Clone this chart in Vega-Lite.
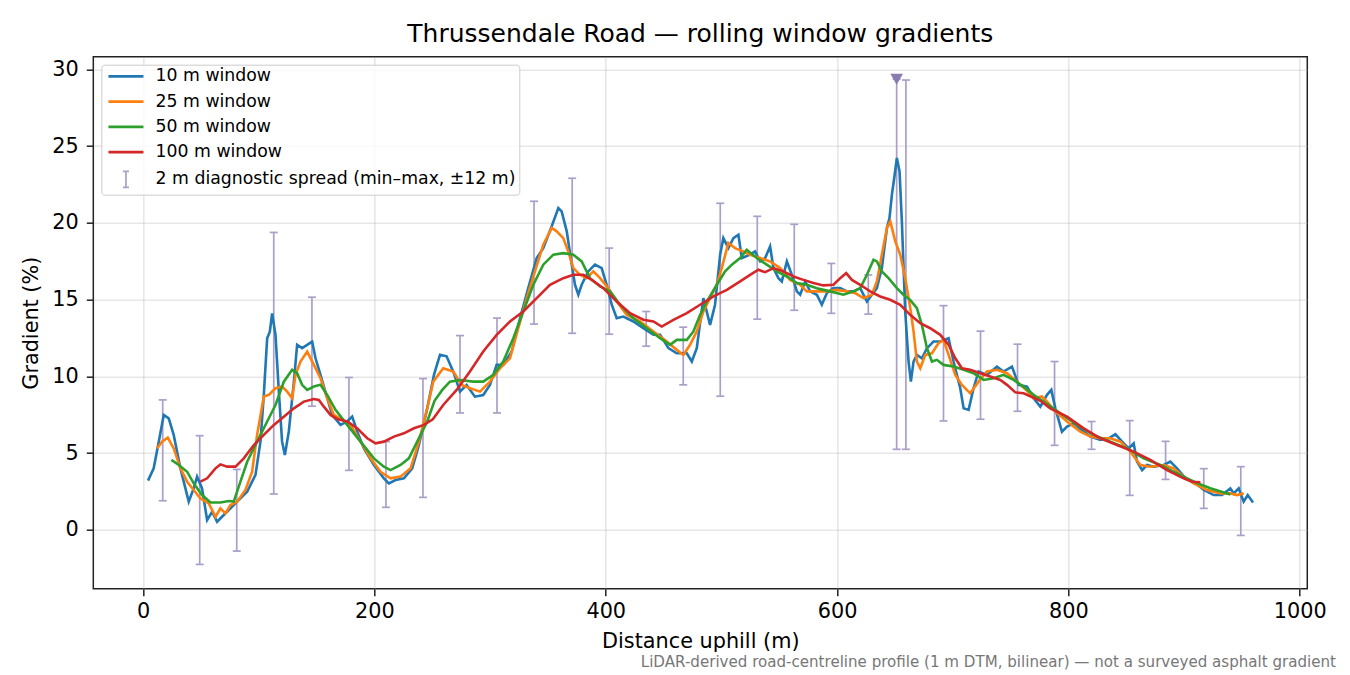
{
  "$schema": "https://vega.github.io/schema/vega-lite/v6.json",
  "description": "Rolling window gradients along Thrussendale Road, with 2 m diagnostic spread bars.",
  "background": "white",
  "padding": {"left": 19.3, "top": 20.7, "right": 5, "bottom": 5},
  "datasets": {
    "lines": [
      {"s": "10 m window", "d": 4.3, "g": 3.2}, {"s": "10 m window", "d": 9.2, "g": 4.0}, {"s": "10 m window", "d": 13.6, "g": 5.74}, {"s": "10 m window", "d": 17.9, "g": 7.48}, {"s": "10 m window", "d": 22.2, "g": 7.26}, {"s": "10 m window", "d": 26.5, "g": 6.18}, {"s": "10 m window", "d": 32.3, "g": 4.0}, {"s": "10 m window", "d": 39.5, "g": 1.83}, {"s": "10 m window", "d": 43.8, "g": 2.7}, {"s": "10 m window", "d": 46.7, "g": 3.46}, {"s": "10 m window", "d": 51, "g": 2.7}, {"s": "10 m window", "d": 55.4, "g": 0.63}, {"s": "10 m window", "d": 59.7, "g": 1.17}, {"s": "10 m window", "d": 64, "g": 0.52}, {"s": "10 m window", "d": 69.8, "g": 0.96}, {"s": "10 m window", "d": 75.6, "g": 1.39}, {"s": "10 m window", "d": 81.3, "g": 1.83}, {"s": "10 m window", "d": 90, "g": 2.48}, {"s": "10 m window", "d": 97.2, "g": 3.57}, {"s": "10 m window", "d": 101.5, "g": 5.74}, {"s": "10 m window", "d": 104.4, "g": 8.79}, {"s": "10 m window", "d": 107.3, "g": 12.48}, {"s": "10 m window", "d": 109.6, "g": 12.9}, {"s": "10 m window", "d": 111.6, "g": 14.1}, {"s": "10 m window", "d": 114.5, "g": 12.7}, {"s": "10 m window", "d": 117.4, "g": 9.0}, {"s": "10 m window", "d": 120.2, "g": 5.74}, {"s": "10 m window", "d": 122.6, "g": 4.87}, {"s": "10 m window", "d": 126, "g": 6.39}, {"s": "10 m window", "d": 130.4, "g": 9.65}, {"s": "10 m window", "d": 133.2, "g": 12.05}, {"s": "10 m window", "d": 137.5, "g": 11.83}, {"s": "10 m window", "d": 141.9, "g": 12.05}, {"s": "10 m window", "d": 146.2, "g": 12.26}, {"s": "10 m window", "d": 149.1, "g": 11.17}, {"s": "10 m window", "d": 153.4, "g": 10.09}, {"s": "10 m window", "d": 159.2, "g": 8.57}, {"s": "10 m window", "d": 163.5, "g": 7.48}, {"s": "10 m window", "d": 170.7, "g": 6.83}, {"s": "10 m window", "d": 176.5, "g": 7.05}, {"s": "10 m window", "d": 180.8, "g": 7.37}, {"s": "10 m window", "d": 185.2, "g": 6.39}, {"s": "10 m window", "d": 190.9, "g": 5.3}, {"s": "10 m window", "d": 199.6, "g": 4.22}, {"s": "10 m window", "d": 208.2, "g": 3.35}, {"s": "10 m window", "d": 212.5, "g": 3.02}, {"s": "10 m window", "d": 218.3, "g": 3.24}, {"s": "10 m window", "d": 225.5, "g": 3.35}, {"s": "10 m window", "d": 232.7, "g": 4.0}, {"s": "10 m window", "d": 238.5, "g": 5.52}, {"s": "10 m window", "d": 245.7, "g": 7.91}, {"s": "10 m window", "d": 251.5, "g": 10.09}, {"s": "10 m window", "d": 256.7, "g": 11.4}, {"s": "10 m window", "d": 262.4, "g": 11.3}, {"s": "10 m window", "d": 268.2, "g": 10.3}, {"s": "10 m window", "d": 274, "g": 9.0}, {"s": "10 m window", "d": 279.7, "g": 9.43}, {"s": "10 m window", "d": 286.9, "g": 8.67}, {"s": "10 m window", "d": 294.1, "g": 8.78}, {"s": "10 m window", "d": 299.9, "g": 9.43}, {"s": "10 m window", "d": 305.7, "g": 10.74}, {"s": "10 m window", "d": 311.4, "g": 10.74}, {"s": "10 m window", "d": 318.7, "g": 11.61}, {"s": "10 m window", "d": 325.9, "g": 13.78}, {"s": "10 m window", "d": 333, "g": 15.74}, {"s": "10 m window", "d": 340.3, "g": 17.7}, {"s": "10 m window", "d": 346, "g": 18.35}, {"s": "10 m window", "d": 353.3, "g": 19.77}, {"s": "10 m window", "d": 359, "g": 20.96}, {"s": "10 m window", "d": 361.9, "g": 20.74}, {"s": "10 m window", "d": 366.3, "g": 19.44}, {"s": "10 m window", "d": 370.6, "g": 17.27}, {"s": "10 m window", "d": 373.4, "g": 15.96}, {"s": "10 m window", "d": 376.3, "g": 15.31}, {"s": "10 m window", "d": 379.2, "g": 15.96}, {"s": "10 m window", "d": 384.9, "g": 16.83}, {"s": "10 m window", "d": 390.7, "g": 17.27}, {"s": "10 m window", "d": 396.5, "g": 17.05}, {"s": "10 m window", "d": 400.8, "g": 15.96}, {"s": "10 m window", "d": 405.2, "g": 14.66}, {"s": "10 m window", "d": 409.5, "g": 13.78}, {"s": "10 m window", "d": 415.2, "g": 13.89}, {"s": "10 m window", "d": 423.9, "g": 13.57}, {"s": "10 m window", "d": 432.5, "g": 13.13}, {"s": "10 m window", "d": 441.2, "g": 12.7}, {"s": "10 m window", "d": 447, "g": 12.7}, {"s": "10 m window", "d": 454.2, "g": 11.83}, {"s": "10 m window", "d": 461.4, "g": 11.5}, {"s": "10 m window", "d": 470.1, "g": 11.5}, {"s": "10 m window", "d": 474.4, "g": 10.96}, {"s": "10 m window", "d": 478.7, "g": 11.83}, {"s": "10 m window", "d": 484.4, "g": 15.09}, {"s": "10 m window", "d": 490.2, "g": 13.35}, {"s": "10 m window", "d": 494.5, "g": 14.66}, {"s": "10 m window", "d": 498.9, "g": 17.92}, {"s": "10 m window", "d": 501.7, "g": 19.0}, {"s": "10 m window", "d": 506, "g": 18.35}, {"s": "10 m window", "d": 510.4, "g": 19.0}, {"s": "10 m window", "d": 514.7, "g": 19.22}, {"s": "10 m window", "d": 517.6, "g": 17.7}, {"s": "10 m window", "d": 524.8, "g": 17.92}, {"s": "10 m window", "d": 529.1, "g": 18.13}, {"s": "10 m window", "d": 533.5, "g": 17.48}, {"s": "10 m window", "d": 537.8, "g": 17.7}, {"s": "10 m window", "d": 542.1, "g": 18.46}, {"s": "10 m window", "d": 545, "g": 17.05}, {"s": "10 m window", "d": 549.3, "g": 16.39}, {"s": "10 m window", "d": 552.2, "g": 16.18}, {"s": "10 m window", "d": 556.6, "g": 17.48}, {"s": "10 m window", "d": 560.9, "g": 16.61}, {"s": "10 m window", "d": 565.2, "g": 15.53}, {"s": "10 m window", "d": 568.1, "g": 15.31}, {"s": "10 m window", "d": 572.4, "g": 16.18}, {"s": "10 m window", "d": 576.7, "g": 15.53}, {"s": "10 m window", "d": 582.5, "g": 15.31}, {"s": "10 m window", "d": 586.8, "g": 14.66}, {"s": "10 m window", "d": 591.2, "g": 15.42}, {"s": "10 m window", "d": 596.9, "g": 15.74}, {"s": "10 m window", "d": 602.7, "g": 15.74}, {"s": "10 m window", "d": 608.5, "g": 15.53}, {"s": "10 m window", "d": 614.2, "g": 15.53}, {"s": "10 m window", "d": 620, "g": 15.74}, {"s": "10 m window", "d": 625.8, "g": 14.87}, {"s": "10 m window", "d": 630.1, "g": 15.31}, {"s": "10 m window", "d": 634.4, "g": 15.74}, {"s": "10 m window", "d": 638.7, "g": 17.05}, {"s": "10 m window", "d": 643.1, "g": 19.66}, {"s": "10 m window", "d": 645.3, "g": 20.31}, {"s": "10 m window", "d": 647.4, "g": 21.83}, {"s": "10 m window", "d": 649.4, "g": 22.92}, {"s": "10 m window", "d": 651.7, "g": 24.22}, {"s": "10 m window", "d": 654, "g": 23.35}, {"s": "10 m window", "d": 656, "g": 20.09}, {"s": "10 m window", "d": 658.9, "g": 14.22}, {"s": "10 m window", "d": 661.8, "g": 10.96}, {"s": "10 m window", "d": 663.8, "g": 9.65}, {"s": "10 m window", "d": 666.1, "g": 10.96}, {"s": "10 m window", "d": 669, "g": 11.39}, {"s": "10 m window", "d": 673.3, "g": 11.17}, {"s": "10 m window", "d": 677.7, "g": 11.83}, {"s": "10 m window", "d": 683.4, "g": 12.26}, {"s": "10 m window", "d": 689.2, "g": 12.26}, {"s": "10 m window", "d": 696.4, "g": 12.48}, {"s": "10 m window", "d": 700.7, "g": 10.96}, {"s": "10 m window", "d": 706.5, "g": 9.22}, {"s": "10 m window", "d": 709.4, "g": 7.91}, {"s": "10 m window", "d": 713.7, "g": 7.81}, {"s": "10 m window", "d": 718, "g": 9.22}, {"s": "10 m window", "d": 722.3, "g": 10.31}, {"s": "10 m window", "d": 729.5, "g": 10.09}, {"s": "10 m window", "d": 738.2, "g": 10.63}, {"s": "10 m window", "d": 743.9, "g": 10.31}, {"s": "10 m window", "d": 751.2, "g": 10.63}, {"s": "10 m window", "d": 756.9, "g": 9.44}, {"s": "10 m window", "d": 764.2, "g": 9.33}, {"s": "10 m window", "d": 769.9, "g": 8.57}, {"s": "10 m window", "d": 775.7, "g": 8.02}, {"s": "10 m window", "d": 781.5, "g": 8.79}, {"s": "10 m window", "d": 785.2, "g": 9.11}, {"s": "10 m window", "d": 788.7, "g": 7.91}, {"s": "10 m window", "d": 794.4, "g": 6.39}, {"s": "10 m window", "d": 798.8, "g": 6.72}, {"s": "10 m window", "d": 804.5, "g": 6.94}, {"s": "10 m window", "d": 813.2, "g": 6.39}, {"s": "10 m window", "d": 819, "g": 6.07}, {"s": "10 m window", "d": 827.6, "g": 5.85}, {"s": "10 m window", "d": 834.8, "g": 5.96}, {"s": "10 m window", "d": 840.6, "g": 6.22}, {"s": "10 m window", "d": 846.4, "g": 5.74}, {"s": "10 m window", "d": 852.1, "g": 5.3}, {"s": "10 m window", "d": 856.4, "g": 5.63}, {"s": "10 m window", "d": 859.3, "g": 4.44}, {"s": "10 m window", "d": 863.7, "g": 3.89}, {"s": "10 m window", "d": 868, "g": 4.22}, {"s": "10 m window", "d": 873.8, "g": 4.11}, {"s": "10 m window", "d": 882.4, "g": 4.22}, {"s": "10 m window", "d": 888.1, "g": 4.44}, {"s": "10 m window", "d": 893.9, "g": 4.0}, {"s": "10 m window", "d": 901.1, "g": 3.35}, {"s": "10 m window", "d": 908.3, "g": 3.13}, {"s": "10 m window", "d": 917, "g": 2.59}, {"s": "10 m window", "d": 925.6, "g": 2.26}, {"s": "10 m window", "d": 932.8, "g": 2.26}, {"s": "10 m window", "d": 940, "g": 2.7}, {"s": "10 m window", "d": 942.9, "g": 2.37}, {"s": "10 m window", "d": 947.2, "g": 2.7}, {"s": "10 m window", "d": 951.5, "g": 1.83}, {"s": "10 m window", "d": 955, "g": 2.26}, {"s": "10 m window", "d": 959.6, "g": 1.78},

      {"s": "25 m window", "d": 12.1, "g": 5.3}, {"s": "25 m window", "d": 16.4, "g": 5.74}, {"s": "25 m window", "d": 21.4, "g": 6.0}, {"s": "25 m window", "d": 26.5, "g": 5.3}, {"s": "25 m window", "d": 32.3, "g": 4.0}, {"s": "25 m window", "d": 38.1, "g": 3.13}, {"s": "25 m window", "d": 43.8, "g": 2.59}, {"s": "25 m window", "d": 49.6, "g": 2.04}, {"s": "25 m window", "d": 56.8, "g": 1.72}, {"s": "25 m window", "d": 62.6, "g": 0.85}, {"s": "25 m window", "d": 66.9, "g": 1.39}, {"s": "25 m window", "d": 71.2, "g": 1.06}, {"s": "25 m window", "d": 75.6, "g": 1.61}, {"s": "25 m window", "d": 81.3, "g": 1.83}, {"s": "25 m window", "d": 88.5, "g": 2.59}, {"s": "25 m window", "d": 94.3, "g": 3.78}, {"s": "25 m window", "d": 98.6, "g": 6.18}, {"s": "25 m window", "d": 104.4, "g": 8.68}, {"s": "25 m window", "d": 108.7, "g": 8.79}, {"s": "25 m window", "d": 114.5, "g": 9.22}, {"s": "25 m window", "d": 120.2, "g": 9.33}, {"s": "25 m window", "d": 124.6, "g": 9.0}, {"s": "25 m window", "d": 128.9, "g": 8.57}, {"s": "25 m window", "d": 131.8, "g": 10.09}, {"s": "25 m window", "d": 136.1, "g": 10.96}, {"s": "25 m window", "d": 141.9, "g": 11.61}, {"s": "25 m window", "d": 147.7, "g": 10.74}, {"s": "25 m window", "d": 153.4, "g": 9.87}, {"s": "25 m window", "d": 159.2, "g": 8.57}, {"s": "25 m window", "d": 165, "g": 7.48}, {"s": "25 m window", "d": 172.1, "g": 7.16}, {"s": "25 m window", "d": 179.4, "g": 6.83}, {"s": "25 m window", "d": 188, "g": 5.74}, {"s": "25 m window", "d": 196.7, "g": 4.65}, {"s": "25 m window", "d": 205.3, "g": 3.78}, {"s": "25 m window", "d": 214, "g": 3.35}, {"s": "25 m window", "d": 222.6, "g": 3.46}, {"s": "25 m window", "d": 231.3, "g": 4.0}, {"s": "25 m window", "d": 238.5, "g": 5.74}, {"s": "25 m window", "d": 245.7, "g": 7.91}, {"s": "25 m window", "d": 250.9, "g": 9.65}, {"s": "25 m window", "d": 259.5, "g": 10.52}, {"s": "25 m window", "d": 268.2, "g": 10.31}, {"s": "25 m window", "d": 275.4, "g": 9.43}, {"s": "25 m window", "d": 282.6, "g": 9.22}, {"s": "25 m window", "d": 291.3, "g": 9.0}, {"s": "25 m window", "d": 299.9, "g": 9.65}, {"s": "25 m window", "d": 308.6, "g": 10.52}, {"s": "25 m window", "d": 317.2, "g": 11.17}, {"s": "25 m window", "d": 324.4, "g": 13.13}, {"s": "25 m window", "d": 331.7, "g": 15.09}, {"s": "25 m window", "d": 338.8, "g": 16.83}, {"s": "25 m window", "d": 346, "g": 18.57}, {"s": "25 m window", "d": 353.3, "g": 19.66}, {"s": "25 m window", "d": 357.6, "g": 19.44}, {"s": "25 m window", "d": 363.3, "g": 19.0}, {"s": "25 m window", "d": 367.6, "g": 18.13}, {"s": "25 m window", "d": 372, "g": 17.05}, {"s": "25 m window", "d": 377.8, "g": 16.61}, {"s": "25 m window", "d": 383.5, "g": 16.39}, {"s": "25 m window", "d": 389.3, "g": 16.83}, {"s": "25 m window", "d": 395.1, "g": 16.39}, {"s": "25 m window", "d": 402.2, "g": 15.74}, {"s": "25 m window", "d": 409.5, "g": 14.87}, {"s": "25 m window", "d": 418.2, "g": 14.0}, {"s": "25 m window", "d": 429.7, "g": 13.57}, {"s": "25 m window", "d": 441.2, "g": 12.92}, {"s": "25 m window", "d": 452.8, "g": 12.26}, {"s": "25 m window", "d": 461.4, "g": 11.72}, {"s": "25 m window", "d": 467.1, "g": 11.39}, {"s": "25 m window", "d": 472.9, "g": 12.05}, {"s": "25 m window", "d": 478.7, "g": 12.92}, {"s": "25 m window", "d": 484.4, "g": 14.22}, {"s": "25 m window", "d": 490.2, "g": 15.09}, {"s": "25 m window", "d": 496, "g": 15.96}, {"s": "25 m window", "d": 500.3, "g": 17.05}, {"s": "25 m window", "d": 506, "g": 18.68}, {"s": "25 m window", "d": 511.8, "g": 18.35}, {"s": "25 m window", "d": 519, "g": 18.13}, {"s": "25 m window", "d": 524.8, "g": 17.92}, {"s": "25 m window", "d": 533.5, "g": 17.7}, {"s": "25 m window", "d": 542.1, "g": 17.48}, {"s": "25 m window", "d": 550.8, "g": 17.05}, {"s": "25 m window", "d": 559.4, "g": 16.28}, {"s": "25 m window", "d": 568.1, "g": 15.96}, {"s": "25 m window", "d": 573.8, "g": 15.53}, {"s": "25 m window", "d": 582.5, "g": 15.53}, {"s": "25 m window", "d": 591.2, "g": 15.53}, {"s": "25 m window", "d": 599.8, "g": 15.63}, {"s": "25 m window", "d": 608.5, "g": 15.53}, {"s": "25 m window", "d": 615.6, "g": 15.42}, {"s": "25 m window", "d": 622.8, "g": 15.09}, {"s": "25 m window", "d": 630.1, "g": 15.31}, {"s": "25 m window", "d": 634.4, "g": 16.18}, {"s": "25 m window", "d": 638.7, "g": 17.92}, {"s": "25 m window", "d": 643.1, "g": 19.66}, {"s": "25 m window", "d": 646, "g": 20.09}, {"s": "25 m window", "d": 650.3, "g": 18.79}, {"s": "25 m window", "d": 654.6, "g": 17.92}, {"s": "25 m window", "d": 658.9, "g": 16.39}, {"s": "25 m window", "d": 663.3, "g": 14.44}, {"s": "25 m window", "d": 666.1, "g": 12.92}, {"s": "25 m window", "d": 669, "g": 10.96}, {"s": "25 m window", "d": 671.9, "g": 10.52}, {"s": "25 m window", "d": 676.2, "g": 11.39}, {"s": "25 m window", "d": 682, "g": 11.5}, {"s": "25 m window", "d": 687.7, "g": 12.15}, {"s": "25 m window", "d": 692, "g": 12.37}, {"s": "25 m window", "d": 696.4, "g": 11.39}, {"s": "25 m window", "d": 702.2, "g": 10.09}, {"s": "25 m window", "d": 707.9, "g": 9.43}, {"s": "25 m window", "d": 715.1, "g": 8.89}, {"s": "25 m window", "d": 722.3, "g": 9.65}, {"s": "25 m window", "d": 729.5, "g": 10.31}, {"s": "25 m window", "d": 738.2, "g": 10.42}, {"s": "25 m window", "d": 746.9, "g": 10.2}, {"s": "25 m window", "d": 755.5, "g": 9.65}, {"s": "25 m window", "d": 764.2, "g": 9.05}, {"s": "25 m window", "d": 769.9, "g": 8.57}, {"s": "25 m window", "d": 777.1, "g": 8.68}, {"s": "25 m window", "d": 782.9, "g": 8.24}, {"s": "25 m window", "d": 788.7, "g": 7.7}, {"s": "25 m window", "d": 798.8, "g": 7.05}, {"s": "25 m window", "d": 810.3, "g": 6.39}, {"s": "25 m window", "d": 819, "g": 6.07}, {"s": "25 m window", "d": 827.6, "g": 5.96}, {"s": "25 m window", "d": 836.2, "g": 5.96}, {"s": "25 m window", "d": 844.9, "g": 5.74}, {"s": "25 m window", "d": 853.5, "g": 5.09}, {"s": "25 m window", "d": 862.2, "g": 4.22}, {"s": "25 m window", "d": 870.8, "g": 4.11}, {"s": "25 m window", "d": 882.4, "g": 4.22}, {"s": "25 m window", "d": 891, "g": 4.0}, {"s": "25 m window", "d": 899.6, "g": 3.46}, {"s": "25 m window", "d": 908.3, "g": 3.02}, {"s": "25 m window", "d": 919.8, "g": 2.59}, {"s": "25 m window", "d": 931.4, "g": 2.37}, {"s": "25 m window", "d": 940, "g": 2.37}, {"s": "25 m window", "d": 945.8, "g": 2.26}, {"s": "25 m window", "d": 951.5, "g": 2.37},

      {"s": "50 m window", "d": 24.5, "g": 4.55}, {"s": "50 m window", "d": 30.9, "g": 4.22}, {"s": "50 m window", "d": 38.1, "g": 3.78}, {"s": "50 m window", "d": 43.8, "g": 3.02}, {"s": "50 m window", "d": 51, "g": 2.26}, {"s": "50 m window", "d": 58.3, "g": 1.78}, {"s": "50 m window", "d": 66.9, "g": 1.78}, {"s": "50 m window", "d": 74.1, "g": 1.87}, {"s": "50 m window", "d": 78.4, "g": 1.83}, {"s": "50 m window", "d": 84.2, "g": 3.13}, {"s": "50 m window", "d": 90, "g": 4.43}, {"s": "50 m window", "d": 98.6, "g": 5.74}, {"s": "50 m window", "d": 107.3, "g": 7.05}, {"s": "50 m window", "d": 114.5, "g": 8.13}, {"s": "50 m window", "d": 121.7, "g": 9.65}, {"s": "50 m window", "d": 128.9, "g": 10.42}, {"s": "50 m window", "d": 133.2, "g": 10.2}, {"s": "50 m window", "d": 137.5, "g": 9.44}, {"s": "50 m window", "d": 141.9, "g": 9.11}, {"s": "50 m window", "d": 147.7, "g": 9.33}, {"s": "50 m window", "d": 153.4, "g": 9.44}, {"s": "50 m window", "d": 159.2, "g": 8.79}, {"s": "50 m window", "d": 166.4, "g": 7.81}, {"s": "50 m window", "d": 176.5, "g": 6.83}, {"s": "50 m window", "d": 188, "g": 5.74}, {"s": "50 m window", "d": 199.6, "g": 4.65}, {"s": "50 m window", "d": 208.2, "g": 4.11}, {"s": "50 m window", "d": 214, "g": 3.89}, {"s": "50 m window", "d": 222.6, "g": 4.22}, {"s": "50 m window", "d": 229.8, "g": 4.65}, {"s": "50 m window", "d": 237, "g": 5.74}, {"s": "50 m window", "d": 245.7, "g": 7.05}, {"s": "50 m window", "d": 252, "g": 8.4}, {"s": "50 m window", "d": 258.7, "g": 9.11}, {"s": "50 m window", "d": 265.3, "g": 9.65}, {"s": "50 m window", "d": 274, "g": 9.76}, {"s": "50 m window", "d": 285.5, "g": 9.65}, {"s": "50 m window", "d": 294.1, "g": 9.65}, {"s": "50 m window", "d": 302.8, "g": 10.09}, {"s": "50 m window", "d": 311.4, "g": 10.96}, {"s": "50 m window", "d": 320.1, "g": 12.48}, {"s": "50 m window", "d": 328.7, "g": 14.22}, {"s": "50 m window", "d": 337.4, "g": 15.96}, {"s": "50 m window", "d": 346, "g": 17.27}, {"s": "50 m window", "d": 354.7, "g": 17.92}, {"s": "50 m window", "d": 363.3, "g": 18.02}, {"s": "50 m window", "d": 372, "g": 17.92}, {"s": "50 m window", "d": 379.2, "g": 17.48}, {"s": "50 m window", "d": 386.4, "g": 16.39}, {"s": "50 m window", "d": 395.1, "g": 15.85}, {"s": "50 m window", "d": 403.7, "g": 15.53}, {"s": "50 m window", "d": 412.4, "g": 14.66}, {"s": "50 m window", "d": 423.9, "g": 13.78}, {"s": "50 m window", "d": 435.5, "g": 13.13}, {"s": "50 m window", "d": 447, "g": 12.48}, {"s": "50 m window", "d": 455.6, "g": 12.05}, {"s": "50 m window", "d": 461.4, "g": 12.37}, {"s": "50 m window", "d": 470.1, "g": 12.37}, {"s": "50 m window", "d": 475.8, "g": 12.92}, {"s": "50 m window", "d": 481.6, "g": 14.0}, {"s": "50 m window", "d": 487.4, "g": 14.87}, {"s": "50 m window", "d": 496, "g": 15.96}, {"s": "50 m window", "d": 503.2, "g": 16.83}, {"s": "50 m window", "d": 509, "g": 17.27}, {"s": "50 m window", "d": 516.2, "g": 17.7}, {"s": "50 m window", "d": 521.9, "g": 18.24}, {"s": "50 m window", "d": 530.6, "g": 17.7}, {"s": "50 m window", "d": 539.2, "g": 17.27}, {"s": "50 m window", "d": 547.9, "g": 16.83}, {"s": "50 m window", "d": 556.6, "g": 16.5}, {"s": "50 m window", "d": 565.2, "g": 16.07}, {"s": "50 m window", "d": 573.8, "g": 15.96}, {"s": "50 m window", "d": 582.5, "g": 15.74}, {"s": "50 m window", "d": 594, "g": 15.53}, {"s": "50 m window", "d": 605.5, "g": 15.31}, {"s": "50 m window", "d": 614.2, "g": 15.53}, {"s": "50 m window", "d": 620, "g": 15.74}, {"s": "50 m window", "d": 625.8, "g": 16.61}, {"s": "50 m window", "d": 631.5, "g": 17.59}, {"s": "50 m window", "d": 634.4, "g": 17.48}, {"s": "50 m window", "d": 638.7, "g": 16.83}, {"s": "50 m window", "d": 644.5, "g": 16.39}, {"s": "50 m window", "d": 651.7, "g": 15.74}, {"s": "50 m window", "d": 657.4, "g": 15.31}, {"s": "50 m window", "d": 663.2, "g": 14.98}, {"s": "50 m window", "d": 669, "g": 14.44}, {"s": "50 m window", "d": 673.3, "g": 13.35}, {"s": "50 m window", "d": 677.7, "g": 11.83}, {"s": "50 m window", "d": 682, "g": 10.96}, {"s": "50 m window", "d": 686.3, "g": 11.07}, {"s": "50 m window", "d": 692, "g": 10.74}, {"s": "50 m window", "d": 700.7, "g": 10.63}, {"s": "50 m window", "d": 709.4, "g": 10.42}, {"s": "50 m window", "d": 718, "g": 10.2}, {"s": "50 m window", "d": 726.7, "g": 9.76}, {"s": "50 m window", "d": 735.3, "g": 9.87}, {"s": "50 m window", "d": 743.9, "g": 10.09}, {"s": "50 m window", "d": 752.6, "g": 9.76}, {"s": "50 m window", "d": 762, "g": 9.28}, {"s": "50 m window", "d": 769.9, "g": 8.79}, {"s": "50 m window", "d": 778.5, "g": 8.35}, {"s": "50 m window", "d": 793, "g": 7.59}, {"s": "50 m window", "d": 807.4, "g": 6.83}, {"s": "50 m window", "d": 821.8, "g": 6.18}, {"s": "50 m window", "d": 836.2, "g": 5.74}, {"s": "50 m window", "d": 850.7, "g": 5.3}, {"s": "50 m window", "d": 865.1, "g": 4.65}, {"s": "50 m window", "d": 879.5, "g": 4.22}, {"s": "50 m window", "d": 893.9, "g": 3.67}, {"s": "50 m window", "d": 908.3, "g": 3.13}, {"s": "50 m window", "d": 922.7, "g": 2.7}, {"s": "50 m window", "d": 940, "g": 2.3},

      {"s": "100 m window", "d": 49.6, "g": 3.13}, {"s": "100 m window", "d": 55.4, "g": 3.35}, {"s": "100 m window", "d": 62.6, "g": 4.0}, {"s": "100 m window", "d": 66.9, "g": 4.26}, {"s": "100 m window", "d": 72.7, "g": 4.11}, {"s": "100 m window", "d": 79.9, "g": 4.11}, {"s": "100 m window", "d": 87.1, "g": 4.65}, {"s": "100 m window", "d": 95.8, "g": 5.52}, {"s": "100 m window", "d": 104.4, "g": 6.18}, {"s": "100 m window", "d": 113.1, "g": 6.83}, {"s": "100 m window", "d": 121.7, "g": 7.37}, {"s": "100 m window", "d": 130.4, "g": 7.91}, {"s": "100 m window", "d": 139, "g": 8.35}, {"s": "100 m window", "d": 147.7, "g": 8.52}, {"s": "100 m window", "d": 152, "g": 8.46}, {"s": "100 m window", "d": 156.3, "g": 8.02}, {"s": "100 m window", "d": 162.1, "g": 7.48}, {"s": "100 m window", "d": 167.8, "g": 7.22}, {"s": "100 m window", "d": 176.5, "g": 7.05}, {"s": "100 m window", "d": 185.1, "g": 6.61}, {"s": "100 m window", "d": 193.8, "g": 5.96}, {"s": "100 m window", "d": 201, "g": 5.63}, {"s": "100 m window", "d": 208.2, "g": 5.74}, {"s": "100 m window", "d": 216.9, "g": 6.07}, {"s": "100 m window", "d": 225.5, "g": 6.28}, {"s": "100 m window", "d": 234.2, "g": 6.61}, {"s": "100 m window", "d": 242.8, "g": 6.83}, {"s": "100 m window", "d": 250.5, "g": 7.2}, {"s": "100 m window", "d": 259.5, "g": 8.13}, {"s": "100 m window", "d": 271.1, "g": 9.11}, {"s": "100 m window", "d": 282.6, "g": 10.31}, {"s": "100 m window", "d": 294.1, "g": 11.61}, {"s": "100 m window", "d": 305.7, "g": 12.7}, {"s": "100 m window", "d": 317.2, "g": 13.57}, {"s": "100 m window", "d": 328.7, "g": 14.22}, {"s": "100 m window", "d": 340.3, "g": 15.09}, {"s": "100 m window", "d": 351.8, "g": 15.96}, {"s": "100 m window", "d": 363.3, "g": 16.39}, {"s": "100 m window", "d": 372, "g": 16.61}, {"s": "100 m window", "d": 380.6, "g": 16.61}, {"s": "100 m window", "d": 387.9, "g": 16.28}, {"s": "100 m window", "d": 397.9, "g": 15.74}, {"s": "100 m window", "d": 409.5, "g": 14.87}, {"s": "100 m window", "d": 421, "g": 14.11}, {"s": "100 m window", "d": 432.5, "g": 13.68}, {"s": "100 m window", "d": 441.2, "g": 13.57}, {"s": "100 m window", "d": 448.4, "g": 13.24}, {"s": "100 m window", "d": 458.5, "g": 13.68}, {"s": "100 m window", "d": 470.1, "g": 14.11}, {"s": "100 m window", "d": 481.6, "g": 14.66}, {"s": "100 m window", "d": 493.1, "g": 15.2}, {"s": "100 m window", "d": 504.7, "g": 15.63}, {"s": "100 m window", "d": 516.2, "g": 16.18}, {"s": "100 m window", "d": 524.8, "g": 16.61}, {"s": "100 m window", "d": 532, "g": 16.94}, {"s": "100 m window", "d": 537.8, "g": 16.78}, {"s": "100 m window", "d": 545, "g": 17.05}, {"s": "100 m window", "d": 553.6, "g": 16.83}, {"s": "100 m window", "d": 562.3, "g": 16.5}, {"s": "100 m window", "d": 570.9, "g": 16.28}, {"s": "100 m window", "d": 579.6, "g": 16.07}, {"s": "100 m window", "d": 588.2, "g": 15.92}, {"s": "100 m window", "d": 596.9, "g": 15.96}, {"s": "100 m window", "d": 602.7, "g": 16.39}, {"s": "100 m window", "d": 607.9, "g": 16.72}, {"s": "100 m window", "d": 612.8, "g": 16.28}, {"s": "100 m window", "d": 620, "g": 15.96}, {"s": "100 m window", "d": 628.6, "g": 15.53}, {"s": "100 m window", "d": 637.3, "g": 15.2}, {"s": "100 m window", "d": 645.9, "g": 14.98}, {"s": "100 m window", "d": 654.6, "g": 14.66}, {"s": "100 m window", "d": 663.2, "g": 14.0}, {"s": "100 m window", "d": 671.9, "g": 13.46}, {"s": "100 m window", "d": 680.5, "g": 13.13}, {"s": "100 m window", "d": 689.2, "g": 12.7}, {"s": "100 m window", "d": 696.4, "g": 12.05}, {"s": "100 m window", "d": 702.2, "g": 11.17}, {"s": "100 m window", "d": 707.9, "g": 10.52}, {"s": "100 m window", "d": 715.1, "g": 10.42}, {"s": "100 m window", "d": 723.8, "g": 10.2}, {"s": "100 m window", "d": 732.4, "g": 9.98}, {"s": "100 m window", "d": 741.1, "g": 9.76}, {"s": "100 m window", "d": 746.9, "g": 9.44}, {"s": "100 m window", "d": 754.1, "g": 8.95}, {"s": "100 m window", "d": 761.2, "g": 8.89}, {"s": "100 m window", "d": 769.9, "g": 8.6}, {"s": "100 m window", "d": 775.7, "g": 8.4}, {"s": "100 m window", "d": 784.3, "g": 7.91}, {"s": "100 m window", "d": 798.8, "g": 7.37}, {"s": "100 m window", "d": 813.2, "g": 6.61}, {"s": "100 m window", "d": 827.6, "g": 5.96}, {"s": "100 m window", "d": 842, "g": 5.52}, {"s": "100 m window", "d": 856.4, "g": 5.09}, {"s": "100 m window", "d": 870.8, "g": 4.55}, {"s": "100 m window", "d": 885.3, "g": 3.89}, {"s": "100 m window", "d": 899.6, "g": 3.35}, {"s": "100 m window", "d": 906.9, "g": 3.13}, {"s": "100 m window", "d": 914.1, "g": 3.09}
    ],
    "spread": [
      {"d": 17, "lo": 1.89, "hi": 8.46}, {"d": 49, "lo": -2.26, "hi": 6.13}, {"d": 81, "lo": -1.39, "hi": 3.93}, {"d": 113, "lo": 2.33, "hi": 19.37}, {"d": 146, "lo": 8.05, "hi": 15.15}, {"d": 178, "lo": 3.87, "hi": 9.92}, {"d": 210, "lo": 1.46, "hi": 5.74}, {"d": 242, "lo": 2.11, "hi": 9.85}, {"d": 274, "lo": 7.61, "hi": 12.65}, {"d": 306, "lo": 7.61, "hi": 13.79}, {"d": 338, "lo": 13.4, "hi": 21.4}, {"d": 371, "lo": 12.8, "hi": 22.9}, {"d": 403, "lo": 12.74, "hi": 18.35}, {"d": 435, "lo": 11.96, "hi": 14.22}, {"d": 467, "lo": 9.44, "hi": 13.2}, {"d": 499, "lo": 8.7, "hi": 21.27}, {"d": 531, "lo": 13.72, "hi": 20.42}, {"d": 563, "lo": 14.3, "hi": 19.9}, {"d": 595, "lo": 14.1, "hi": 17.35}, {"d": 627, "lo": 14.05, "hi": 16.6}, {"d": 651.5, "lo": 5.24, "hi": 29.35}, {"d": 659.5, "lo": 5.24, "hi": 29.3}, {"d": 692, "lo": 7.09, "hi": 14.6}, {"d": 724, "lo": 7.2, "hi": 12.94}, {"d": 756, "lo": 7.72, "hi": 12.09}, {"d": 788, "lo": 5.5, "hi": 10.96}, {"d": 820, "lo": 5.24, "hi": 7.05}, {"d": 853, "lo": 2.24, "hi": 7.11}, {"d": 884, "lo": 3.28, "hi": 5.76}, {"d": 917, "lo": 1.39, "hi": 3.98}, {"d": 949, "lo": -0.37, "hi": 4.11}
    ],
    "flag": [
      {"d": 651.5, "g": 29.35}
    ]
  },
  "title": {
    "text": "LiDAR-derived road-centreline profile (1 m DTM, bilinear) — not a surveyed asphalt gradient",
    "orient": "bottom",
    "anchor": "end",
    "frame": "bounds",
    "font": "DejaVu Sans",
    "fontSize": 15.1,
    "fontWeight": "normal",
    "color": "#777777",
    "offset": 3,
    "dx": 9
  },
  "vconcat": [
    {
      "title": {
        "text": "Thrussendale Road — rolling window gradients",
        "anchor": "middle",
        "frame": "group",
        "font": "DejaVu Sans",
        "fontSize": 25,
        "fontWeight": "normal",
        "color": "#000000",
        "baseline": "alphabetic",
        "offset": -10.7
      },
      "width": 1214,
      "height": 532,
      "encoding": {
        "x": {
          "type": "quantitative",
          "scale": {"domain": [-43, 1006.5], "nice": false, "zero": false},
          "axis": {"values": [0, 200, 400, 600, 800, 1000], "format": "d", "title": "Distance uphill (m)", "labelPadding": 6, "titlePadding": 10}
        },
        "y": {
          "type": "quantitative",
          "scale": {"domain": [-3.84, 30.82], "nice": false, "zero": false},
          "axis": {"values": [0, 5, 10, 15, 20, 25, 30], "format": "d", "title": "Gradient (%)", "labelPadding": 8, "titlePadding": 10}
        }
      },
      "layer": [
        {
          "data": {"name": "spread"},
          "mark": {"type": "rule", "strokeWidth": 1.7},
          "encoding": {
            "x": {"field": "d", "type": "quantitative"},
            "y": {"field": "lo", "type": "quantitative"},
            "y2": {"field": "hi"},
            "color": {"datum": "2 m diagnostic spread (min–max, ±12 m)", "type": "nominal"}
          }
        },
        {
          "data": {"name": "spread"},
          "mark": {"type": "tick", "orient": "horizontal", "size": 8, "thickness": 1.7, "color": "#ab9fc9", "opacity": 1},
          "encoding": {
            "x": {"field": "d", "type": "quantitative"},
            "y": {"field": "lo", "type": "quantitative"}
          }
        },
        {
          "data": {"name": "spread"},
          "mark": {"type": "tick", "orient": "horizontal", "size": 8, "thickness": 1.7, "color": "#ab9fc9", "opacity": 1},
          "encoding": {
            "x": {"field": "d", "type": "quantitative"},
            "y": {"field": "hi", "type": "quantitative"}
          }
        },
        {
          "data": {"name": "lines"},
          "transform": [{"filter": "datum.s === '10 m window'"}],
          "mark": {"type": "line", "strokeWidth": 2.6},
          "encoding": {
            "x": {"field": "d", "type": "quantitative"},
            "y": {"field": "g", "type": "quantitative"},
            "color": {
              "field": "s",
              "type": "nominal",
              "scale": {
                "domain": ["10 m window", "25 m window", "50 m window", "100 m window", "2 m diagnostic spread (min–max, ±12 m)"],
                "range": ["#1f77b4", "#ff7f0e", "#2ca02c", "#d62728", "#ab9fc9"]
              },
              "legend": {
                "title": null,
                "orient": "top-left",
                "offset": 8,
                "padding": 3,
                "fillColor": "rgba(255,255,255,0.8)",
                "strokeColor": "#cccccc",
                "cornerRadius": 3,
                "labelFont": "DejaVu Sans",
                "labelFontSize": 17.3,
                "labelColor": "#000000",
                "labelLimit": 600,
                "symbolSize": 400,
                "symbolOffset": 13,
                "labelOffset": 21,
                "rowPadding": 7.25,
                "symbolStrokeWidth": 2.6,
                "encode": {
                  "symbols": {
                    "update": {
                      "shape": {"signal": "datum.value === '2 m diagnostic spread (min–max, ±12 m)' ? 'M0,-0.8V0.8M-0.3,-0.8H0.3M-0.3,0.8H0.3' : 'M-1.75,0H1.75'"},
                      "strokeWidth": {"signal": "datum.value === '2 m diagnostic spread (min–max, ±12 m)' ? 1.7 : 2.6"},
                      "fill": {"value": "transparent"},
                      "opacity": {"value": 1}
                    }
                  }
                }
              }
            }
          }
        },
        {
          "data": {"name": "lines"},
          "transform": [{"filter": "datum.s === '25 m window'"}],
          "mark": {"type": "line", "strokeWidth": 2.6},
          "encoding": {
            "x": {"field": "d", "type": "quantitative"},
            "y": {"field": "g", "type": "quantitative"},
            "color": {"field": "s", "type": "nominal"}
          }
        },
        {
          "data": {"name": "lines"},
          "transform": [{"filter": "datum.s === '50 m window'"}],
          "mark": {"type": "line", "strokeWidth": 2.6},
          "encoding": {
            "x": {"field": "d", "type": "quantitative"},
            "y": {"field": "g", "type": "quantitative"},
            "color": {"field": "s", "type": "nominal"}
          }
        },
        {
          "data": {"name": "lines"},
          "transform": [{"filter": "datum.s === '100 m window'"}],
          "mark": {"type": "line", "strokeWidth": 2.6},
          "encoding": {
            "x": {"field": "d", "type": "quantitative"},
            "y": {"field": "g", "type": "quantitative"},
            "color": {"field": "s", "type": "nominal"}
          }
        },
        {
          "data": {"name": "flag"},
          "mark": {"type": "point", "shape": "triangle-down", "filled": true, "size": 160, "color": "#8a7bb0", "opacity": 1},
          "encoding": {
            "x": {"field": "d", "type": "quantitative"},
            "y": {"field": "g", "type": "quantitative"}
          }
        }
      ]
    }
  ],
  "config": {
    "font": "DejaVu Sans",
    "view": {"stroke": "#222222", "strokeWidth": 1.5},
    "axis": {
      "domain": false,
      "grid": true,
      "gridColor": "#b0b0b0",
      "gridOpacity": 0.3,
      "gridWidth": 1.6,
      "ticks": true,
      "tickSize": 7,
      "tickWidth": 1.5,
      "tickColor": "#222222",
      "labelFont": "DejaVu Sans",
      "labelFontSize": 20.8,
      "labelColor": "#000000",
      "labelFlush": false,
      "titleFont": "DejaVu Sans",
      "titleFontSize": 20.8,
      "titleFontWeight": "normal",
      "titleColor": "#000000"
    }
  }
}
